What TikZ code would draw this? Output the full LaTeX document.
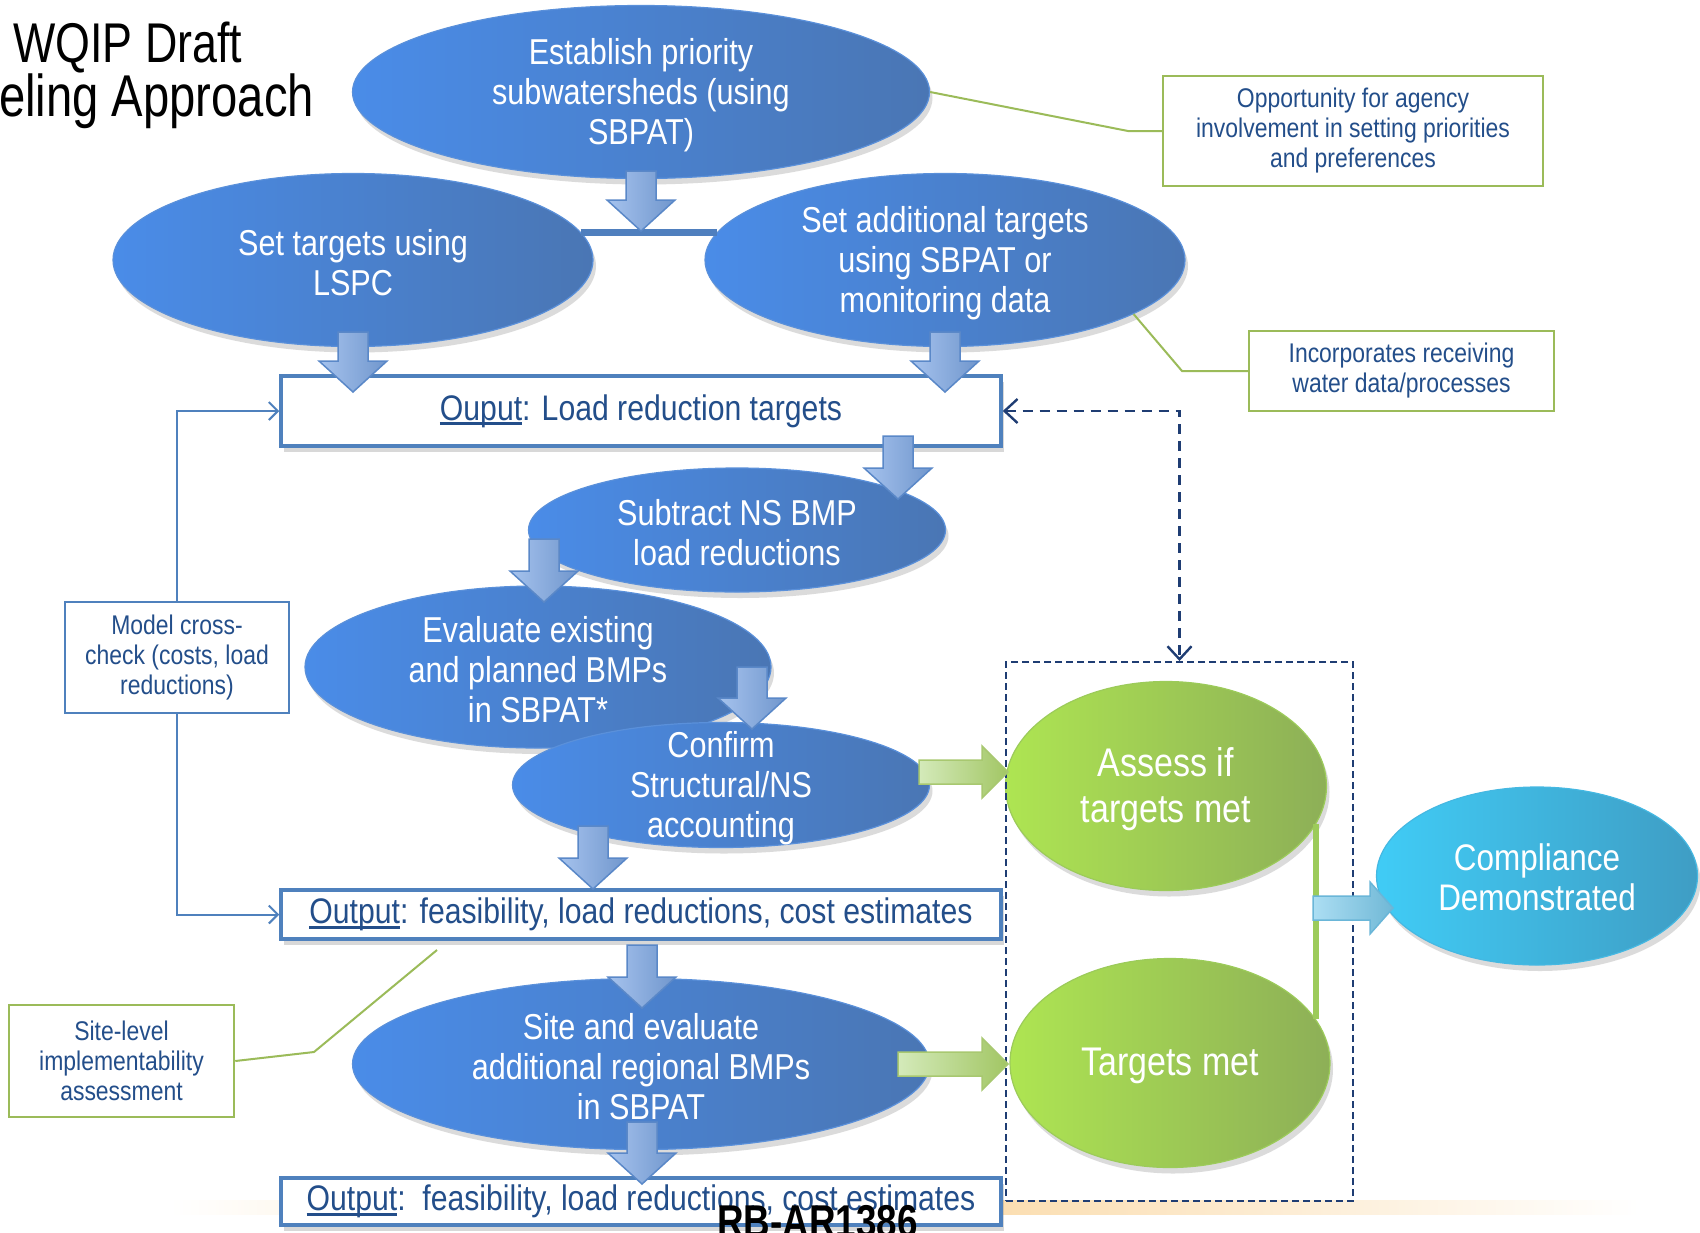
\documentclass[tikz,border=0pt]{standalone}
\usepackage{fontspec}
\setmainfont{Liberation Sans}[FakeStretch=0.85]
\newfontfamily\titlef{Liberation Sans}[FakeStretch=0.8]
\usetikzlibrary{shapes.geometric,shadows,arrows.meta,calc}
\definecolor{ebl}{HTML}{4A8CE8}
\definecolor{ebr}{HTML}{4A76B4}
\definecolor{eborder}{HTML}{5A90DA}
\definecolor{txtblue}{HTML}{234E8A}
\definecolor{boxblue}{HTML}{4F81BD}
\definecolor{notegreen}{HTML}{9BBB59}
\definecolor{gl}{HTML}{AEE552}
\definecolor{gr}{HTML}{8DAF57}
\definecolor{gborder}{HTML}{9CCB5A}
\definecolor{cl}{HTML}{40CCF6}
\definecolor{cr}{HTML}{3F9DC4}
\definecolor{cborder}{HTML}{45B8E2}
\definecolor{arl}{HTML}{A6C3EE}
\definecolor{arr}{HTML}{7096CC}
\definecolor{arb}{HTML}{5A88C8}
\definecolor{gal}{HTML}{D4EABA}
\definecolor{gar}{HTML}{A2C664}
\definecolor{gab}{HTML}{A8C870}
\definecolor{cal}{HTML}{ACDEF3}
\definecolor{car}{HTML}{70B8D6}
\definecolor{cab}{HTML}{6AB6D8}
\definecolor{navy}{HTML}{1F3D73}
\definecolor{barc}{HTML}{4F7FBE}
\definecolor{glow}{HTML}{FAD9A6}
\newcommand\ulw[1]{\setbox0=\hbox{#1}\rlap{\rule[-5pt]{\wd0}{3pt}}\box0}
\newcommand\downblock[3]{%
  \path[barrow] (#1-15,#2) -- (#1+15,#2) -- (#1+15,#3-31) -- (#1+34,#3-31) -- (#1,#3) -- (#1-34,#3-31) -- (#1-15,#3-31) -- cycle;}
\newcommand\rightblock[5]{%
  \path[#1] (#2,#5-12) -- (#3,#5-12) -- (#3,#5-26) -- (#4,#5) -- (#3,#5+26) -- (#3,#5+12) -- (#2,#5+12) -- cycle;}
\tikzset{
  ell/.style={ellipse, inner sep=0pt, line width=1.2pt,
    drop shadow={shadow xshift=3pt, shadow yshift=-6pt, opacity=.28}},
  blueell/.style={ell, draw=eborder, left color=ebl, right color=ebr},
  greenell/.style={ell, draw=gborder, left color=gl, right color=gr},
  cyanell/.style={ell, draw=cborder, left color=cl, right color=cr},
  etext/.style={text=white, align=center, inner sep=0pt, yshift=-3pt, font=\fontsize{36}{40}\selectfont},
  gtext/.style={text=white, align=center, inner sep=0pt, yshift=-3pt, font=\fontsize{40}{46}\selectfont},
  ctext/.style={text=white, align=center, inner sep=0pt, yshift=-1pt, font=\fontsize{37}{40}\selectfont},
  outbox/.style={rectangle, draw=boxblue, line width=3.5pt, fill=white, minimum width=720,
    inner sep=0pt, text=txtblue, font=\fontsize{35.5}{40}\selectfont,
    drop shadow={shadow xshift=3pt, shadow yshift=-6pt, opacity=.3}},
  notebox/.style={rectangle, draw=notegreen, line width=2.5pt, fill=white, inner sep=0pt,
    text=txtblue, align=center, font=\fontsize{27}{30}\selectfont},
  bluenote/.style={notebox, draw=boxblue},
  barrow/.style={draw=arb, line width=1.5pt, left color=arl, right color=arr},
  garrow/.style={draw=gab, line width=1.5pt, left color=gal, right color=gar},
  carrow/.style={draw=cab, line width=1.5pt, left color=cal, right color=car},
  noteline/.style={draw=notegreen, line width=2pt},
  xline/.style={draw=boxblue, line width=2pt, -{Straight Barb[length=9pt,width=18pt,line width=2pt]}},
  titletext/.style={anchor=base west, inner sep=0pt, font=\titlef\fontsize{56}{60}\selectfont},
}
\begin{document}
\begin{tikzpicture}[x=1pt,y=-1pt]
\useasboundingbox (0,0) rectangle (1700,1232);
\fill[white] (0,0) rectangle (1700,1232);
% bottom glow
\shade[left color=white, right color=white, middle color=glow] (170,1200) rectangle (1640,1214);

% title
\node[titletext] (t1) at (13,62) {WQIP Draft};
\node[titletext, font=\titlef\fontsize{59}{62}\selectfont] (t2) at (-1,116) {eling Approach};

% ellipses
\node[blueell, minimum width=577, minimum height=173,
  label={[etext]center:{Establish priority\\subwatersheds (using\\SBPAT)}}] (E1) at (641,92) {};
\node[blueell, minimum width=480, minimum height=173,
  label={[etext]center:{Set targets using\\LSPC}}] (E2) at (353,260) {};
\node[blueell, minimum width=480, minimum height=173,
  label={[etext]center:{Set additional targets\\using SBPAT or\\monitoring data}}] (E3) at (945,260) {};
\draw[line width=7pt, draw=barc] (E2.7) -- (E3.173);

% output box 1
\node[outbox, minimum height=70] (B1) at (641,411) {\ulw{Ouput}: Load reduction targets};

\node[blueell, minimum width=417, minimum height=124,
  label={[etext]center:{Subtract NS BMP\\load reductions}}] (E4) at (737,530) {};
\node[blueell, minimum width=466, minimum height=162,
  label={[etext]center:{Evaluate existing\\and planned BMPs\\in SBPAT*}}] (E5) at (538,667) {};
\node[blueell, minimum width=417, minimum height=125,
  label={[etext]center:{Confirm\\Structural/NS\\accounting}}] (E6) at (721,785) {};

\node[outbox, minimum height=49] (B2) at (641,914.5) {\ulw{Output}: feasibility, load reductions, cost estimates};

\node[blueell, minimum width=577, minimum height=171,
  label={[etext]center:{Site and evaluate\\additional regional BMPs\\in SBPAT}}] (E7) at (641,1064) {};

\node[outbox, minimum height=47] (B3) at (641,1201.5) {\ulw{Output}:\ \ feasibility, load reductions, cost estimates};

% block arrows down
\downblock{641}{171}{231}
\downblock{353}{332}{392}
\downblock{945}{332}{392}
\downblock{898}{436}{499}
\downblock{544}{539}{602}
\downblock{752}{667}{729}
\downblock{593}{826}{889}
\downblock{642}{945}{1008}
\downblock{642}{1122}{1184}

% green ellipses and dashed frame
\node[greenell, minimum width=321, minimum height=209,
  label={[gtext]center:{Assess if\\targets met}}] (G1) at (1166,786) {};
\node[greenell, minimum width=320, minimum height=209,
  label={[gtext]center:{Targets met}}] (G2) at (1170,1063) {};
\node[draw=navy, line width=2pt, dash pattern=on 7pt off 4pt, minimum width=347, minimum height=539, inner sep=0pt] (dbox) at (1179.5,931.5) {};

\rightblock{garrow}{919}{982}{1008}{772}
\rightblock{garrow}{898}{982}{1008}{1064}

\coordinate (gl1) at (G1.-14);
\draw[draw=gborder, line width=6pt] (gl1) -- (gl1 |- G2.17);

\node[cyanell, minimum width=321, minimum height=178,
  label={[ctext]center:{Compliance\\Demonstrated}}] (C) at (1537,876) {};
\rightblock{carrow}{1313}{1370}{1393}{908}

% dashed feedback connector
\draw[navy, line width=2.4pt, dash pattern=on 10pt off 7pt,
  {Straight Barb[length=13pt,width=24pt,line width=2.4pt]}-{Straight Barb[length=13pt,width=24pt,line width=2.4pt]}]
  (B1.east) -| (dbox.north);

% notes
\node[notebox, minimum width=380, minimum height=110] (N1) at (1353,131)
  {Opportunity for agency\\involvement in setting priorities\\and preferences};
\coordinate (n1b) at (1128,131);
\draw[noteline] (E1.east) -- (n1b) -- (N1.west);

\node[notebox, minimum width=305, minimum height=80] (N2) at (1401.5,371)
  {Incorporates receiving\\water data/processes};
\coordinate (n2b) at (1182,371);
\draw[noteline] (E3.-16) -- (n2b) -- (N2.west);

\node[bluenote, minimum width=224, minimum height=111] (N3) at (177,657.5)
  {Model cross-\\check (costs, load\\reductions)};
\draw[xline] (N3.north) |- (B1.west);
\draw[xline] (N3.south) |- (B2.west);

\node[notebox, minimum width=225, minimum height=112] (N4) at (121.5,1061)
  {Site-level\\implementability\\assessment};
\coordinate (n4b) at (314,1052);
\coordinate (n4e) at (437,950);
\draw[noteline] (N4.east) -- (n4b) -- (n4e);

% stamp
\node[anchor=north west, inner sep=0pt, font=\titlef\bfseries\fontsize{46}{50}\selectfont] (rb) at (717,1205) {RB-AR1386};
\end{tikzpicture}
\end{document}
